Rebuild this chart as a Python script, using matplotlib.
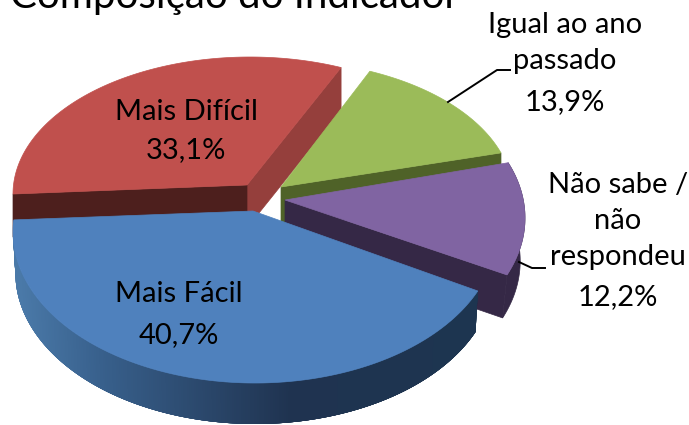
"""
plot.py  --  exploded 3D-style pie, drawn on a pixel-sized axes
"""
import numpy as np
import matplotlib
matplotlib.use('Agg')
import matplotlib.pyplot as plt
from matplotlib.colors import to_rgb

plt.rcParams['font.family'] = ['Lato', 'DejaVu Sans']

title = 'Composição do Indicador'
categories = ['Mais Fácil', 'Mais Difícil', 'Igual ao ano\npassado', 'Não sabe /\nnão\nrespondeu']
shares = [40.7, 33.1, 13.9, 12.2]
share_labels = ['40,7%', '33,1%', '13,9%', '12,2%']

tops = ['#4f81bd', '#c0504d', '#9bbb59', '#8064a2']
# ellipse of each exploded slice: cx, cy, a, b, first angle, perspective stretch
ellipses = [(255, 232, 242, 151, 175.4, 1.103),
            (250, 194, 237, 137, 67.4, 0.945),
            (278, 195.5, 235, 135, 18.4, 0.971),
            (285, 218, 240, 150, -22.3, 1.0)]
apexes = [(253, 211), (247, 185), (281, 187), (285, 200)]
depth = 43


def arc(i, dy=0, shrink=1.0, n=300):
    cx, cy, a, b, start, stretch = ellipses[i]
    t = np.radians(np.linspace(start, start + shares[i] * 3.6 * stretch, n))
    return cx + a * shrink * np.cos(t), cy + dy - b * np.sin(t)


fig = plt.figure(figsize=(6.89, 4.25), dpi=100)
ax = fig.add_axes([0, 0, 1, 1])
ax.set_xlim(0, 689)
ax.set_ylim(425, 0)
ax.axis('off')


def wall(p, q, color):
    ax.fill([p[0], q[0], q[0], p[0]], [p[1], q[1], q[1] + depth, p[1] + depth],
            color=color, lw=0.5)


def top(i):
    x, y = arc(i)
    ax.fill(np.r_[apexes[i][0], x], np.r_[apexes[i][1], y], color=tops[i], lw=0.5)
    return x, y


# red
x, y = arc(1)
wall(apexes[1], (x[0], y[0]), '#953f3c')
wall((x[-1], y[-1]), apexes[1], '#4d1f1d')
top(1)

# green
x, y = arc(2)
wall((x[0], y[0]), apexes[2], '#4f6228')
top(2)

# leader lines sit under the slices
ax.plot([448, 497, 510], [102, 70, 70], color='black', lw=1.4)
ax.plot([519, 532, 545], [262, 268, 268], color='black', lw=1.4)

# purple
x, y = arc(3)
xb, yb = arc(3, dy=depth, shrink=0.98)
ax.fill(np.r_[x, xb[::-1]], np.r_[y, yb[::-1]], color='#352846', lw=0.5)
ax.fill([apexes[3][0], x[0], xb[0], apexes[3][0]],
        [apexes[3][1], y[0], yb[0], apexes[3][1] + depth], color='#352846', lw=0.5)
top(3)

# blue, outer wall shaded from left to right; each band overlaps the next to hide seams
x, y = arc(0)
xb, yb = arc(0, dy=41, shrink=0.99)
stops_x = [20, 100, 200, 290, 480]
stops_c = np.array([to_rgb(c) for c in ['#4a79a8', '#38608c', '#2b486c', '#1f3350', '#1d3550']])
for k in range(len(x) - 1):
    end = min(k + 6, len(x) - 1)
    col = [np.interp(x[k], stops_x, stops_c[:, j]) for j in range(3)]
    ax.fill(np.r_[x[k:end + 1], xb[k:end + 1][::-1]], np.r_[y[k:end + 1], yb[k:end + 1][::-1]],
            color=col, lw=0)
top(0)

font = dict(ha='center', va='center', fontsize=21, color='black')
ax.text(235, 8, title, ha='center', va='baseline', fontsize=29, color='black')
ax.text(179, 294, categories[0], **font)
ax.text(179, 335, share_labels[0], **font)
ax.text(186, 112, categories[1], **font)
ax.text(186, 150, share_labels[1], **font)
ax.text(565, 43, categories[2], linespacing=1.5, **font)
ax.text(565, 102, share_labels[2], **font)
ax.text(618, 221, categories[3], linespacing=1.5, **font)
ax.text(618, 297, share_labels[3], **font)

fig.savefig('out.png', dpi=100)
